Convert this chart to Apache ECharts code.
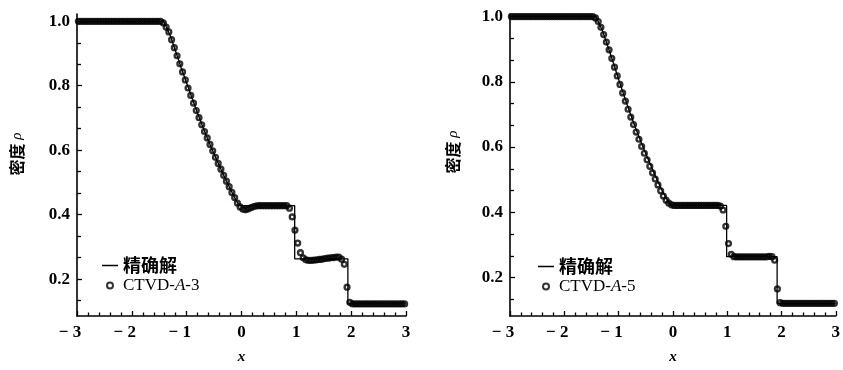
<!DOCTYPE html>
<html>
<head>
<meta charset="utf-8">
<script src="https://cdn.jsdelivr.net/npm/echarts@6.0.0/dist/echarts.min.js"></script>
<style>
  html, body { margin: 0; padding: 0; background: #fff; }
  #chart { width: 843px; height: 370px; }
</style>
</head>
<body>
<div id="chart"></div>
<script>
// cell centres of the numerical grid (both panels)
const xCells = [
  -2.975,-2.925,-2.875,-2.825,-2.775,-2.725,-2.675,-2.625,-2.575,-2.525,
  -2.475,-2.425,-2.375,-2.325,-2.275,-2.225,-2.175,-2.125,-2.075,-2.025,
  -1.975,-1.925,-1.875,-1.825,-1.775,-1.725,-1.675,-1.625,-1.575,-1.525,
  -1.475,-1.425,-1.375,-1.325,-1.275,-1.225,-1.175,-1.125,-1.075,-1.025,
  -0.975,-0.925,-0.875,-0.825,-0.775,-0.725,-0.675,-0.625,-0.575,-0.525,
  -0.475,-0.425,-0.375,-0.325,-0.275,-0.225,-0.175,-0.125,-0.075,-0.025,
  0.025,0.075,0.125,0.175,0.225,0.275,0.325,0.375,0.425,0.475,
  0.525,0.575,0.625,0.675,0.725,0.775,0.825,0.875,0.925,0.975,
  1.025,1.075,1.125,1.175,1.225,1.275,1.325,1.375,1.425,1.475,
  1.525,1.575,1.625,1.675,1.725,1.775,1.825,1.875,1.925,1.975,
  2.025,2.075,2.125,2.175,2.225,2.275,2.325,2.375,2.425,2.475,
  2.525,2.575,2.625,2.675,2.725,2.775,2.825,2.875,2.925,2.975
];

// CTVD-A-3 (left panel)
const rhoA3 = [
  1,1,1,1,1,1,1,1,1,1,
  1,1,1,1,1,1,1,1,1,1,
  1,1,1,1,1,1,1,1,1,1,
  1.0,0.995,0.982,0.967,0.943,0.918,0.893,0.868,0.843,0.818,
  0.793,0.770,0.746,0.723,0.701,0.679,0.658,0.638,0.618,0.598,
  0.578,0.559,0.541,0.522,0.504,0.487,0.469,0.453,0.436,0.424,
  0.417,0.415,0.418,0.422,0.425,0.427,0.428,0.428,0.428,0.428,
  0.428,0.428,0.428,0.428,0.428,0.428,0.428,0.420,0.393,0.352,
  0.312,0.282,0.266,0.260,0.258,0.258,0.259,0.260,0.261,0.262,
  0.264,0.265,0.266,0.267,0.268,0.268,0.262,0.246,0.175,0.128,
  0.123,0.123,0.123,0.123,0.123,0.123,0.123,0.123,0.123,0.123,
  0.123,0.123,0.123,0.123,0.123,0.123,0.123,0.123,0.123,0.123
];

// CTVD-A-5 (right panel)
const rhoA5 = [
  1,1,1,1,1,1,1,1,1,1,
  1,1,1,1,1,1,1,1,1,1,
  1,1,1,1,1,1,1,1,1,1,
  1.0,0.996,0.985,0.967,0.945,0.922,0.898,0.872,0.845,0.818,
  0.792,0.766,0.741,0.716,0.692,0.669,0.646,0.624,0.602,0.581,
  0.561,0.541,0.521,0.502,0.484,0.466,0.450,0.437,0.428,0.423,
  0.421,0.421,0.421,0.421,0.421,0.421,0.421,0.421,0.421,0.421,
  0.421,0.421,0.421,0.421,0.421,0.421,0.421,0.419,0.407,0.357,
  0.304,0.271,0.264,0.263,0.263,0.263,0.263,0.263,0.263,0.263,
  0.263,0.263,0.263,0.263,0.263,0.265,0.264,0.253,0.165,0.123,
  0.121,0.121,0.121,0.121,0.121,0.121,0.121,0.121,0.121,0.121,
  0.121,0.121,0.121,0.121,0.121,0.121,0.121,0.121,0.121,0.121
];

// exact solution
const exactA3 = [[-3,1],[-1.42,1],[-1.3,0.956],[-1.2,0.906],[-1.1,0.856],[-1.0,0.808],
  [-0.9,0.761],[-0.8,0.714],[-0.7,0.670],[-0.6,0.628],[-0.5,0.588],[-0.4,0.55],[-0.3,0.513],
  [-0.2,0.478],[-0.1,0.445],[-0.04,0.428],[0.97,0.428],[0.97,0.263],[1.94,0.263],[1.94,0.123],[3,0.123]];
const exactA5 = [[-3,1],[-1.42,1],[-1.3,0.958],[-1.2,0.91],[-1.1,0.86],[-1.0,0.808],
  [-0.9,0.758],[-0.8,0.71],[-0.7,0.664],[-0.6,0.621],[-0.5,0.58],[-0.4,0.541],[-0.3,0.503],
  [-0.2,0.467],[-0.1,0.436],[-0.04,0.421],[0.99,0.421],[0.99,0.264],[1.92,0.264],[1.92,0.121],[3,0.121]];

const yMajorTicks = [0.2, 0.4, 0.6, 0.8, 1.0];
const yMinorTicks = [0.1333, 0.2667, 0.3333, 0.4667, 0.5333, 0.6667, 0.7333, 0.8667, 0.9333];

const serif = '"Liberation Serif", "DejaVu Serif", serif';
const cjk = '"Noto Sans CJK SC", sans-serif';

var myChart = echarts.init(document.getElementById('chart'));

function xAxisFor(gi) {
  const f = { fontFamily: serif, fontWeight: 'bold', fontSize: 17, color: '#000' };
  return {
    type: 'value', gridIndex: gi, min: -3, max: 3, interval: 1,
    name: 'x', nameLocation: 'middle', nameGap: 34,
    nameTextStyle: { fontFamily: serif, fontStyle: 'italic', fontWeight: 'bold', fontSize: 15, color: '#000' },
    axisLine: { show: true, onZero: false, lineStyle: { color: '#000', width: 1.6 } },
    axisTick: { show: true, inside: true, length: 5, lineStyle: { color: '#000', width: 1.3 } },
    minorTick: { show: true, splitNumber: 5, length: 3.5, lineStyle: { color: '#000', width: 1.3 } },
    splitLine: { show: false },
    axisLabel: {
      margin: 8,
      formatter: v => v < 0 ? '{m|−}{d|' + (-v) + '}{p| }' : '{d|' + v + '}',
      rich: {
        m: Object.assign({ width: 14, align: 'left' }, f),
        d: f,
        p: Object.assign({ width: 14 }, f)
      }
    }
  };
}

function yAxesFor(gi, min, max) {
  return [
    {
      type: 'value', gridIndex: gi, min: min, max: max, position: 'left',
      axisLine: { show: true, onZero: false, lineStyle: { color: '#000', width: 1.6 } },
      axisTick: { show: true, inside: true, length: 5, customValues: yMajorTicks, lineStyle: { color: '#000', width: 1.3 } },
      splitLine: { show: false },
      axisLabel: {
        customValues: yMajorTicks, margin: 7,
        formatter: v => v.toFixed(1),
        fontFamily: serif, fontWeight: 'bold', fontSize: 17, color: '#000'
      }
    },
    {
      // minor ticks only
      type: 'value', gridIndex: gi, min: min, max: max, position: 'left', offset: 0,
      axisLine: { show: false, onZero: false },
      axisTick: { show: true, inside: true, length: 4, customValues: yMinorTicks, lineStyle: { color: '#000', width: 1.3 } },
      splitLine: { show: false },
      axisLabel: { show: false }
    }
  ];
}

function legendFor(left, top, names) {
  return {
    orient: 'vertical', left: left, top: top,
    data: [{ name: names[0], icon: 'path://M0 0H16V1.5H0Z' }, { name: names[1] }],
    itemWidth: 16, itemHeight: 6, itemGap: 1, selectedMode: false,
    formatter: name => name === '精确解' ? '{c|精确解}' : name.replace('-A-', '-{i|A}-'),
    textStyle: {
      fontFamily: serif, fontSize: 17, lineHeight: 19, color: '#000',
      rich: {
        c: { fontFamily: cjk, fontWeight: 'bold', fontSize: 18, lineHeight: 19, color: '#000' },
        i: { fontFamily: serif, fontStyle: 'italic', fontSize: 17, lineHeight: 19, color: '#000' }
      }
    }
  };
}

function yTitle(x, y) {
  return {
    type: 'text', x: x, y: y, rotation: Math.PI / 2,
    style: {
      text: '密度 {r|ρ}', fill: '#000', align: 'center', verticalAlign: 'middle',
      fontFamily: cjk, fontWeight: 'bold', fontSize: 16,
      rich: { r: { fontFamily: serif, fontStyle: 'italic', fontSize: 15, fill: '#000' } }
    }
  };
}

const circleStyle = { color: 'rgba(0,0,0,0)', borderColor: '#000', borderWidth: 2.4 };

myChart.setOption({
  animation: false,
  backgroundColor: '#fff',
  grid: [
    { left: 77, top: 14, width: 329, height: 303 },
    { left: 510, top: 14, width: 328, height: 304 }
  ],
  xAxis: [xAxisFor(0), xAxisFor(1)],
  yAxis: yAxesFor(0, 0.0856, 1.0226).concat(yAxesFor(1, 0.082, 1.008)),
  legend: [
    legendFor(97, 251, ['精确解', 'CTVD-A-3']),
    legendFor(533, 252, ['精确解', 'CTVD-A-5'])
  ],
  graphic: [yTitle(17, 154), yTitle(453, 152)],
  series: [
    {
      name: '精确解', type: 'line', xAxisIndex: 0, yAxisIndex: 0, data: exactA3,
      symbol: 'none', color: '#000', lineStyle: { color: '#000', width: 1.3 }, z: 2, silent: true
    },
    {
      name: 'CTVD-A-3', type: 'scatter', xAxisIndex: 0, yAxisIndex: 0,
      data: xCells.map((x, i) => [x, rhoA3[i]]),
      symbol: 'circle', symbolSize: 4.8, itemStyle: circleStyle, z: 3, silent: true
    },
    {
      name: '精确解', type: 'line', xAxisIndex: 1, yAxisIndex: 2, data: exactA5,
      symbol: 'none', color: '#000', lineStyle: { color: '#000', width: 1.3 }, z: 2, silent: true
    },
    {
      name: 'CTVD-A-5', type: 'scatter', xAxisIndex: 1, yAxisIndex: 2,
      data: xCells.map((x, i) => [x, rhoA5[i]]),
      symbol: 'circle', symbolSize: 4.8, itemStyle: circleStyle, z: 3, silent: true
    }
  ]
});
</script>
</body>
</html>
